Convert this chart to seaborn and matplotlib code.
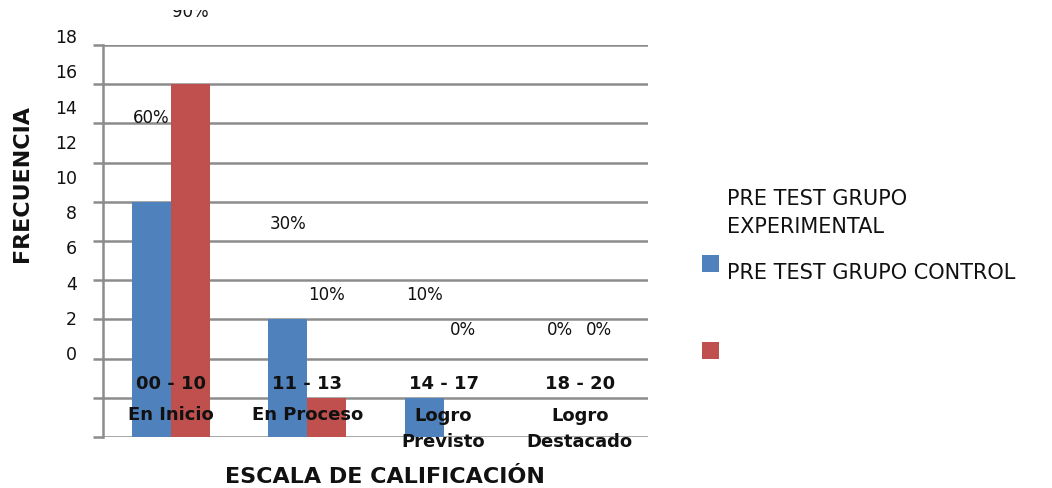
import matplotlib
matplotlib.use("Agg")
import matplotlib.pyplot as plt
import matplotlib.transforms as mtransforms
from matplotlib.patches import Rectangle
from matplotlib import font_manager
import seaborn as sns
import pandas as pd

# ---- data ----
categories = ["00 - 10", "11 - 13", "14 - 17", "18 - 20"]
category_names = ["En Inicio", "En Proceso", "Logro\nPrevisto", "Logro\nDestacado"]
experimental = [6, 3, 1, 0]
control = [9, 1, 0, 0]
exp_pct = ["60%", "30%", "10%", "0%"]
ctl_pct = ["90%", "10%", "0%", "0%"]
series_names = ["PRE TEST GRUPO\nEXPERIMENTAL", "PRE TEST GRUPO CONTROL"]
ytick_labels = [0, 2, 4, 6, 8, 10, 12, 14, 16, 18]

BLUE = "#4F81BD"
RED = "#C0504D"
GRID = "#8C8C8C"
TXT = "#111111"

df = pd.DataFrame({
    "cat": categories * 2,
    "val": experimental + control,
    "serie": ["exp"] * 4 + ["ctl"] * 4,
})

sns.set_theme(style="white")
plt.rcParams["font.family"] = ["DejaVu Sans"]

fig = plt.figure(figsize=(10.52, 4.88), dpi=100)
ax = fig.add_axes([103 / 1052, 1 - 437 / 488, 545 / 1052, 392 / 488])

sns.barplot(data=df, x="cat", y="val", hue="serie", order=categories,
            hue_order=["exp", "ctl"], palette=[BLUE, RED], width=0.574,
            saturation=1, legend=False, ax=ax, zorder=3, linewidth=0,
            edgecolor="none")

ax.set_xlim(-0.5, 3.5)
ax.set_ylim(0, 10)
ax.set_yticks(range(0, 11))
ax.set_xticks([])
ax.yaxis.grid(True, color=GRID, linewidth=1.8, zorder=0)
ax.set_axisbelow(True)
ax.tick_params(axis="y", left=True, length=7, width=1.8, color=GRID, labelleft=False)
for s in ["top", "right", "bottom"]:
    ax.spines[s].set_visible(False)
ax.spines["left"].set_color(GRID)
ax.spines["left"].set_linewidth(1.8)
ax.set_xlabel("")
ax.set_ylabel("")

# misplaced y tick labels (as in reference)
trans_y = mtransforms.blended_transform_factory(ax.transAxes, ax.transData)
for t in ytick_labels:
    ax.text(-0.048, 2.09 + 0.449 * t, str(t), transform=trans_y, ha="right",
            va="center", fontsize=12.5, color=TXT, clip_on=False)

# clip region: figure minus a thin band at the very top
clip_box = mtransforms.TransformedBbox(
    mtransforms.Bbox([[0, 0], [1, 1 - 10 / 488]]), fig.transFigure)

# percentage labels
for cont, labels in zip(ax.containers, [exp_pct, ctl_pct]):
    for bar, lab in zip(cont, labels):
        xc = bar.get_x() + bar.get_width() / 2
        h = bar.get_height()
        t = ax.text(xc, 2.73 + 0.902 * h, lab, ha="center", va="center",
                    fontsize=12, color=TXT, zorder=5)
        t.set_clip_on(True)
        t.set_clip_box(clip_box)

# category labels inside plot
for i, (c, n) in enumerate(zip(categories, category_names)):
    ax.text(i, 1.35, c, ha="center", va="center", fontsize=13,
            fontweight="bold", color=TXT, zorder=6, clip_on=False)
    if "\n" in n:
        ax.text(i, 0.56 - 0.35, n, ha="center", va="center", fontsize=13,
                fontweight="bold", color=TXT, zorder=6, clip_on=False,
                linespacing=1.55)
    else:
        ax.text(i, 0.56, n, ha="center", va="center", fontsize=13,
                fontweight="bold", color=TXT, zorder=6, clip_on=False)

# axis titles
fig.text(385 / 1052, 1 - 477 / 488, "ESCALA DE CALIFICACIÓN", ha="center",
         va="center", fontsize=16, fontweight="bold", color=TXT)

# narrow font for y title if available
fam, size = ["DejaVu Sans"], 16
for cand in ["Liberation Sans Narrow"]:
    try:
        p = font_manager.findfont(font_manager.FontProperties(family=cand, weight="bold"),
                                  fallback_to_default=False)
        if "Narrow" in p:
            fam, size = [cand, "DejaVu Sans"], 20
            break
    except Exception:
        pass
fig.text(22 / 1052, 1 - 183 / 488, "FRECUENCIA", ha="center", va="center",
         rotation=90, fontsize=size, fontweight="bold", color=TXT, family=fam)

# legend (reproducing the offset layout of the reference)
fig.patches.append(Rectangle((702 / 1052, 1 - 272 / 488), 17 / 1052, 17 / 488,
                             transform=fig.transFigure, facecolor=BLUE,
                             edgecolor="none"))
fig.patches.append(Rectangle((702 / 1052, 1 - 359 / 488), 17 / 1052, 17 / 488,
                             transform=fig.transFigure, facecolor=RED,
                             edgecolor="none"))
fig.text(727 / 1052, 1 - 213 / 488, series_names[0], ha="left", va="center",
         fontsize=15, color=TXT, linespacing=1.5)
fig.text(727 / 1052, 1 - 273 / 488, series_names[1], ha="left", va="center",
         fontsize=15, color=TXT)

fig.savefig("out.png", dpi=100)
